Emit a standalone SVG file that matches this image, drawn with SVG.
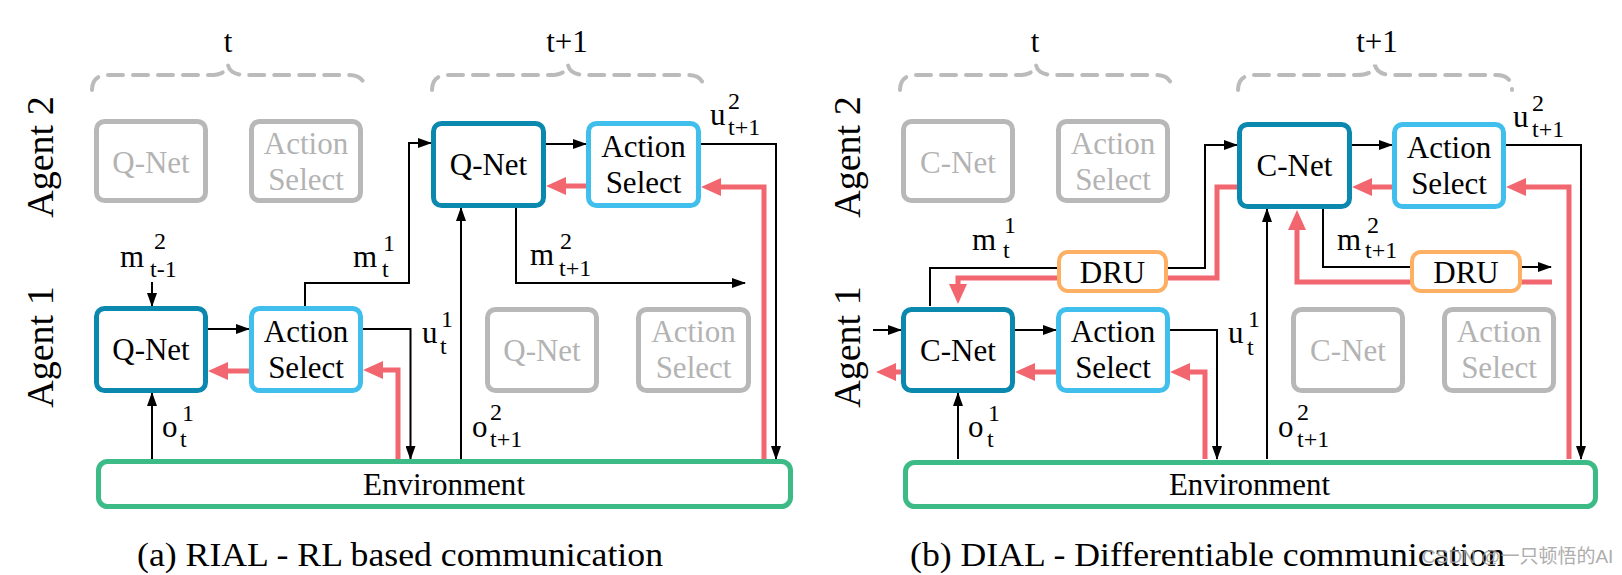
<svg xmlns="http://www.w3.org/2000/svg" width="1622" height="575" viewBox="0 0 1622 575">
<style>
.t{font-family:"Liberation Serif","Times New Roman",serif;fill:#000;font-size:31px}
.g{fill:#b3b3b3}
.s{font-size:24px}
.c{text-anchor:middle}
.box{fill:#fff;stroke-width:5}
.net{stroke:#0b88ae}
.act{stroke:#40bfec}
.gray{stroke:#b8b8b8}
.env{stroke:#3dbb87}
.dru{fill:#fff;stroke:#fdb064;stroke-width:4}
.brace{fill:none;stroke:#bbb;stroke-width:4;stroke-dasharray:15 10;stroke-linecap:round}
.k{fill:none;stroke:#000;stroke-width:2}
.r{fill:none;stroke:#f1666f;stroke-width:5}
.wm{font-family:"Liberation Sans","Noto Sans CJK SC",sans-serif;font-size:19px;fill:#a0a0a0}
</style>
<defs>
<marker id="ak" markerWidth="14" markerHeight="10" refX="13" refY="5" orient="auto" markerUnits="userSpaceOnUse"><path d="M0,0 L14,5 L0,10 z" fill="#000"/></marker>
<marker id="ar" markerWidth="20" markerHeight="18" refX="3" refY="9" orient="auto" markerUnits="userSpaceOnUse"><path d="M0,0 L20,9 L0,18 z" fill="#f1666f"/></marker>
</defs>

<!-- braces and time labels -->
<g id="time-labels">
<path class="brace" d="M92,90 Q92,75 108,75 L210,75 Q226,75 228,65 Q230,75 246,75 L349,75 Q365,75 365,90"/>
<path class="brace" d="M432,90 Q432,75 448,75 L550,75 Q566,75 568,65 Q570,75 586,75 L688,75 Q704,75 704,90"/>
<path class="brace" d="M900,90 Q900,75 916,75 L1018,75 Q1034,75 1036,65 Q1038,75 1054,75 L1156,75 Q1172,75 1172,90"/>
<path class="brace" d="M1238,90 Q1238,75 1254,75 L1357,75 Q1373,75 1375,65 Q1377,75 1393,75 L1496,75 Q1512,75 1512,90"/>
<text class="t c" x="228" y="52">t</text>
<text class="t c" x="567" y="52">t+1</text>
<text class="t c" x="1035" y="52">t</text>
<text class="t c" x="1377" y="52">t+1</text>
<text class="t c" font-size="38" transform="translate(53,157) rotate(-90)" style="font-size:38px">Agent 2</text>
<text class="t c" transform="translate(53,347) rotate(-90)" style="font-size:38px">Agent 1</text>
<text class="t c" transform="translate(860,157) rotate(-90)" style="font-size:38px">Agent 2</text>
<text class="t c" transform="translate(860,347) rotate(-90)" style="font-size:38px">Agent 1</text>
</g>

<!-- connectors -->
<g id="connectors">
<!-- panel a -->
<path class="k" d="M152,282 L152,306" marker-end="url(#ak)"/>
<path class="k" d="M208,329 L249,329" marker-end="url(#ak)"/>
<path class="r" d="M249,371 L225,371" marker-end="url(#ar)"/>
<path class="r" d="M398,459 L398,370 L380,370" marker-end="url(#ar)"/>
<path class="k" d="M363,329 L410.5,329 L410.5,459" marker-end="url(#ak)"/>
<path class="k" d="M152,459 L152,393" marker-end="url(#ak)"/>
<path class="k" d="M305,306 L305,283 L409,283 L409,143 L431,143" marker-end="url(#ak)"/>
<path class="k" d="M546,144 L586,144" marker-end="url(#ak)"/>
<path class="r" d="M586,186 L563,186" marker-end="url(#ar)"/>
<path class="k" d="M701,144 L776,144 L776,459" marker-end="url(#ak)"/>
<path class="r" d="M764,459 L764,187 L718,187" marker-end="url(#ar)"/>
<path class="k" d="M516,208 L516,283 L745,283" marker-end="url(#ak)"/>
<path class="k" d="M461,459 L461,208" marker-end="url(#ak)"/>
<!-- panel b -->
<path class="k" d="M873,330 L901,330" marker-end="url(#ak)"/>
<path class="r" d="M901,372 L893,372" marker-end="url(#ar)"/>
<path class="k" d="M1015,330 L1056,330" marker-end="url(#ak)"/>
<path class="r" d="M1056,372 L1032,372" marker-end="url(#ar)"/>
<path class="r" d="M1205,459 L1205,372 L1187,372" marker-end="url(#ar)"/>
<path class="k" d="M1170,330 L1217,330 L1217,459" marker-end="url(#ak)"/>
<path class="k" d="M958,459 L958,393" marker-end="url(#ak)"/>
<path class="k" d="M930,306 L930,268 L1205,268 L1205,145 L1237,145" marker-end="url(#ak)"/>
<path class="r" d="M1237,187 L1217,187 L1217,278 L958,278 L958,287" marker-end="url(#ar)"/>
<path class="k" d="M1352,145 L1392,145" marker-end="url(#ak)"/>
<path class="r" d="M1392,187 L1369,187" marker-end="url(#ar)"/>
<path class="k" d="M1506,145 L1581,145 L1581,459" marker-end="url(#ak)"/>
<path class="r" d="M1569,459 L1569,187 L1523,187" marker-end="url(#ar)"/>
<path class="k" d="M1267,459 L1267,209" marker-end="url(#ak)"/>
<path class="k" d="M1323,209 L1323,267 L1551,267" marker-end="url(#ak)"/>
<path class="r" d="M1552,282 L1297,282 L1297,227" marker-end="url(#ar)"/>
</g>

<!-- connector labels -->
<g id="labels">
<text class="t" x="120" y="267">m</text><text class="t s" x="154" y="249">2</text><text class="t s" x="150" y="277">t-1</text>
<text class="t" x="353" y="267">m</text><text class="t s" x="383" y="251">1</text><text class="t s" x="382" y="277">t</text>
<text class="t" x="422" y="343">u</text><text class="t s" x="441" y="327">1</text><text class="t s" x="440" y="354">t</text>
<text class="t" x="162" y="437">o</text><text class="t s" x="182" y="421">1</text><text class="t s" x="180" y="447">t</text>
<text class="t" x="472" y="437">o</text><text class="t s" x="490" y="420">2</text><text class="t s" x="490" y="447">t+1</text>
<text class="t" x="530" y="265">m</text><text class="t s" x="560" y="249">2</text><text class="t s" x="559" y="276">t+1</text>
<text class="t" x="710" y="125">u</text><text class="t s" x="728" y="109">2</text><text class="t s" x="728" y="135">t+1</text>

<text class="t" x="972" y="250">m</text><text class="t s" x="1004" y="233">1</text><text class="t s" x="1003" y="258">t</text>
<text class="t" x="1337" y="250">m</text><text class="t s" x="1367" y="233">2</text><text class="t s" x="1365" y="258">t+1</text>
<text class="t" x="1513" y="127">u</text><text class="t s" x="1532" y="111">2</text><text class="t s" x="1532" y="137">t+1</text>
<text class="t" x="1228" y="343">u</text><text class="t s" x="1248" y="327">1</text><text class="t s" x="1247" y="355">t</text>
<text class="t" x="968" y="437">o</text><text class="t s" x="988" y="421">1</text><text class="t s" x="987" y="447">t</text>
<text class="t" x="1278" y="437">o</text><text class="t s" x="1297" y="420">2</text><text class="t s" x="1297" y="447">t+1</text>
</g>

<!-- panel a nodes -->
<g id="a-agent2-qnet-t"><rect class="box gray" x="96.5" y="121.5" width="109" height="79" rx="8"/><text class="t g c" x="151" y="173">Q-Net</text></g>
<g id="a-agent2-action-t"><rect class="box gray" x="251.5" y="121.5" width="109" height="79" rx="8"/><text class="t g c" x="306" y="154">Action</text><text class="t g c" x="306" y="190">Select</text></g>
<g id="a-agent2-qnet-t1"><rect class="box net" x="433.5" y="123.5" width="110" height="82" rx="8"/><text class="t c" x="488.5" y="175">Q-Net</text></g>
<g id="a-agent2-action-t1"><rect class="box act" x="588.5" y="123.5" width="110" height="82" rx="8"/><text class="t c" x="643.5" y="157">Action</text><text class="t c" x="643.5" y="193">Select</text></g>
<g id="a-agent1-qnet-t"><rect class="box net" x="96.5" y="308.5" width="109" height="82" rx="8"/><text class="t c" x="151" y="360">Q-Net</text></g>
<g id="a-agent1-action-t"><rect class="box act" x="251.5" y="308.5" width="109" height="82" rx="8"/><text class="t c" x="306" y="342">Action</text><text class="t c" x="306" y="378">Select</text></g>
<g id="a-agent1-qnet-t1"><rect class="box gray" x="487.5" y="309.5" width="109" height="81" rx="8"/><text class="t g c" x="542" y="361">Q-Net</text></g>
<g id="a-agent1-action-t1"><rect class="box gray" x="638.5" y="309.5" width="110" height="81" rx="8"/><text class="t g c" x="693.5" y="342">Action</text><text class="t g c" x="693.5" y="378">Select</text></g>
<g id="a-environment"><rect class="box env" x="98.5" y="461.5" width="692" height="45" rx="9"/><text class="t" x="363" y="495" textLength="162" lengthAdjust="spacingAndGlyphs">Environment</text></g>

<!-- panel b nodes -->
<g id="b-agent2-cnet-t"><rect class="box gray" x="903.5" y="121.5" width="109" height="79" rx="8"/><text class="t g c" x="958" y="173">C-Net</text></g>
<g id="b-agent2-action-t"><rect class="box gray" x="1058.5" y="121.5" width="109" height="79" rx="8"/><text class="t g c" x="1113" y="154">Action</text><text class="t g c" x="1113" y="190">Select</text></g>
<g id="b-agent2-cnet-t1"><rect class="box net" x="1239.5" y="124.5" width="110" height="82" rx="8"/><text class="t c" x="1294.5" y="176">C-Net</text></g>
<g id="b-agent2-action-t1"><rect class="box act" x="1394.5" y="124.5" width="109" height="82" rx="8"/><text class="t c" x="1449" y="158">Action</text><text class="t c" x="1449" y="194">Select</text></g>
<g id="b-agent1-cnet-t"><rect class="box net" x="903.5" y="309.5" width="109" height="81" rx="8"/><text class="t c" x="958" y="361">C-Net</text></g>
<g id="b-agent1-action-t"><rect class="box act" x="1058.5" y="309.5" width="109" height="81" rx="8"/><text class="t c" x="1113" y="342">Action</text><text class="t c" x="1113" y="378">Select</text></g>
<g id="b-agent1-cnet-t1"><rect class="box gray" x="1293.5" y="309.5" width="109" height="81" rx="8"/><text class="t g c" x="1348" y="361">C-Net</text></g>
<g id="b-agent1-action-t1"><rect class="box gray" x="1444.5" y="309.5" width="109" height="81" rx="8"/><text class="t g c" x="1499" y="342">Action</text><text class="t g c" x="1499" y="378">Select</text></g>
<g id="b-dru-t"><rect class="dru" x="1059" y="252" width="107" height="39" rx="9"/><text class="t c" x="1112.5" y="283">DRU</text></g>
<g id="b-dru-t1"><rect class="dru" x="1412" y="252" width="108" height="39" rx="9"/><text class="t c" x="1466" y="283">DRU</text></g>
<g id="b-environment"><rect class="box env" x="905.5" y="462.5" width="690" height="44" rx="9"/><text class="t" x="1169" y="495" textLength="161" lengthAdjust="spacingAndGlyphs">Environment</text></g>

<!-- captions -->
<g id="captions">
<text class="t" x="137" y="566" style="font-size:33px" textLength="526" lengthAdjust="spacingAndGlyphs">(a) RIAL - RL based communication</text>
<text class="t" x="910" y="566" style="font-size:33px" textLength="595" lengthAdjust="spacingAndGlyphs">(b) DIAL - Differentiable communication</text>
<text class="wm" x="1422" y="563" opacity="0.85">CSDN @一只顿悟的AI</text>
</g>
</svg>
